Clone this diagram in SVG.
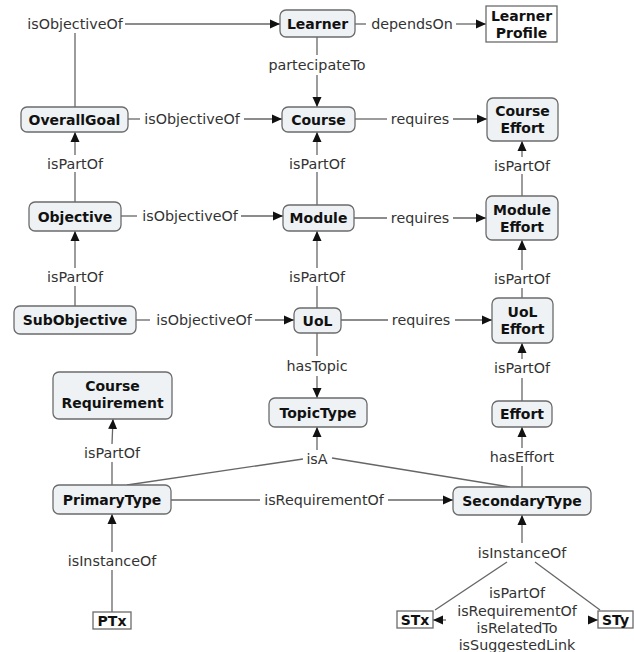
<svg xmlns="http://www.w3.org/2000/svg" width="634" height="652" viewBox="0 0 634 652">
<defs>
<marker id="ah" viewBox="0 0 10 10" refX="10" refY="5" markerWidth="10" markerHeight="10" markerUnits="userSpaceOnUse" orient="auto">
<path d="M0,0.5 L10,5 L0,9.5 z" fill="#111"/>
</marker>
<style>
.n rect{fill:#eef2f5;stroke:#6b6b6b;stroke-width:1.3}
.p rect{fill:#fff;stroke:#6b6b6b;stroke-width:1.3}
.n text,.p text{font-family:"DejaVu Sans",Verdana,sans-serif;font-weight:bold;font-size:14px;fill:#111;text-anchor:middle}
#conn line{stroke:#666;stroke-width:1.3;fill:none}
#conn line.a{marker-end:url(#ah)}
#conn text{font-family:"DejaVu Sans",Verdana,sans-serif;font-size:14.3px;fill:#333;text-anchor:middle}
</style>
</defs>
<rect width="634" height="652" fill="#fff"/>
<g id="conn">
<line x1="75" y1="107" x2="75" y2="33"/>
<text x="75" y="29">isObjectiveOf</text>
<line class="a" x1="125" y1="24" x2="280" y2="24"/>
<line x1="355" y1="24" x2="366" y2="24"/>
<text x="412" y="29">dependsOn</text>
<line class="a" x1="456" y1="24" x2="486" y2="24"/>
<line x1="317" y1="37" x2="317" y2="55"/>
<text x="317" y="70">partecipateTo</text>
<line class="a" x1="317" y1="75" x2="317" y2="107"/>
<line x1="128" y1="119" x2="140" y2="119"/>
<text x="192" y="124">isObjectiveOf</text>
<line class="a" x1="244" y1="119" x2="282" y2="119"/>
<line x1="355" y1="119" x2="387" y2="119"/>
<text x="420" y="124">requires</text>
<line class="a" x1="453" y1="119" x2="487" y2="119"/>
<line x1="75" y1="202" x2="75" y2="172"/>
<text x="75" y="169">isPartOf</text>
<line class="a" x1="75" y1="155" x2="75" y2="132"/>
<line x1="317" y1="205" x2="317" y2="172"/>
<text x="317" y="169">isPartOf</text>
<line class="a" x1="317" y1="155" x2="317" y2="132"/>
<line x1="522" y1="196" x2="522" y2="174"/>
<text x="522" y="171">isPartOf</text>
<line class="a" x1="522" y1="157" x2="522" y2="141"/>
<line x1="121" y1="216" x2="137" y2="216"/>
<text x="190" y="221">isObjectiveOf</text>
<line class="a" x1="241" y1="216" x2="283" y2="216"/>
<line x1="354" y1="218" x2="387" y2="218"/>
<text x="420" y="223">requires</text>
<line class="a" x1="453" y1="218" x2="486" y2="218"/>
<line x1="75" y1="306" x2="75" y2="286"/>
<text x="75" y="282">isPartOf</text>
<line class="a" x1="75" y1="268" x2="75" y2="231"/>
<line x1="317" y1="308" x2="317" y2="286"/>
<text x="317" y="282">isPartOf</text>
<line class="a" x1="317" y1="268" x2="317" y2="231"/>
<line x1="522" y1="298" x2="522" y2="288"/>
<text x="522" y="284">isPartOf</text>
<line class="a" x1="522" y1="270" x2="522" y2="240"/>
<line x1="136" y1="320" x2="150" y2="320"/>
<text x="204" y="325">isObjectiveOf</text>
<line class="a" x1="255" y1="320" x2="294" y2="320"/>
<line x1="341" y1="320" x2="388" y2="320"/>
<text x="421" y="325">requires</text>
<line class="a" x1="455" y1="320" x2="492" y2="320"/>
<line x1="317" y1="333" x2="317" y2="356"/>
<text x="317" y="371">hasTopic</text>
<line class="a" x1="317" y1="376" x2="317" y2="398"/>
<line x1="522" y1="401" x2="522" y2="378"/>
<text x="522" y="373">isPartOf</text>
<line class="a" x1="522" y1="359" x2="522" y2="343"/>
<line x1="127" y1="485" x2="303" y2="459"/>
<line x1="510" y1="487" x2="332" y2="458"/>
<text x="317" y="464">isA</text>
<line class="a" x1="317" y1="450" x2="317" y2="427"/>
<line x1="522" y1="487" x2="522" y2="466"/>
<text x="522" y="462">hasEffort</text>
<line class="a" x1="522" y1="448" x2="522" y2="427"/>
<line x1="112" y1="485" x2="112" y2="462"/>
<text x="112" y="458">isPartOf</text>
<line class="a" x1="112" y1="444" x2="113" y2="419"/>
<line x1="171" y1="500" x2="260" y2="500"/>
<text x="324" y="505">isRequirementOf</text>
<line class="a" x1="388" y1="500" x2="453" y2="500"/>
<line x1="112" y1="612" x2="112" y2="570"/>
<text x="112" y="566">isInstanceOf</text>
<line class="a" x1="112" y1="552" x2="112" y2="514"/>
<text x="522" y="558">isInstanceOf</text>
<line class="a" x1="522" y1="543" x2="522" y2="515"/>
<line x1="435" y1="610" x2="507" y2="562"/>
<line x1="600" y1="610" x2="535" y2="562"/>
<text x="517" y="598">isPartOf</text>
<text x="517" y="616">isRequirementOf</text>
<text x="517" y="633">isRelatedTo</text>
<text x="517" y="650">isSuggestedLink</text>
<line class="a" x1="446" y1="620" x2="433" y2="620"/>
<line class="a" x1="588" y1="620" x2="598" y2="620"/>
</g>
<g id="learner" class="n"><rect x="280" y="10" width="75" height="27" rx="6"/><text x="317.5" y="29">Learner</text></g>
<g id="learnerProfile" class="p"><rect x="486" y="6" width="71" height="36"/><text x="521.5" y="21">Learner</text><text x="521.5" y="38">Profile</text></g>
<g id="overallGoal" class="n"><rect x="21" y="107" width="107" height="25" rx="6"/><text x="74.5" y="124.5">OverallGoal</text></g>
<g id="course" class="n"><rect x="282" y="107" width="73" height="25" rx="6"/><text x="318.5" y="124.5">Course</text></g>
<g id="courseEffort" class="n"><rect x="487" y="98" width="71" height="43" rx="6"/><text x="522.5" y="116">Course</text><text x="522.5" y="133">Effort</text></g>
<g id="objective" class="n"><rect x="29" y="202" width="92" height="29" rx="6"/><text x="75" y="221.5">Objective</text></g>
<g id="module" class="n"><rect x="283" y="205" width="71" height="26" rx="6"/><text x="318.5" y="223">Module</text></g>
<g id="moduleEffort" class="n"><rect x="486" y="196" width="72" height="44" rx="6"/><text x="522" y="215">Module</text><text x="522" y="232">Effort</text></g>
<g id="subObjective" class="n"><rect x="14" y="306" width="122" height="28" rx="6"/><text x="75" y="325">SubObjective</text></g>
<g id="uol" class="n"><rect x="294" y="308" width="47" height="25" rx="6"/><text x="317.5" y="325.5">UoL</text></g>
<g id="uolEffort" class="n"><rect x="492" y="298" width="61" height="45" rx="6"/><text x="522.5" y="317">UoL</text><text x="522.5" y="334">Effort</text></g>
<g id="courseRequirement" class="n"><rect x="53" y="372" width="119" height="47" rx="6"/><text x="112.5" y="391">Course</text><text x="112.5" y="408">Requirement</text></g>
<g id="topicType" class="n"><rect x="269" y="398" width="98" height="29" rx="6"/><text x="318" y="417.5">TopicType</text></g>
<g id="effort" class="n"><rect x="492" y="401" width="60" height="26" rx="6"/><text x="522" y="419">Effort</text></g>
<g id="primaryType" class="n"><rect x="53" y="485" width="118" height="29" rx="6"/><text x="112" y="504.5">PrimaryType</text></g>
<g id="secondaryType" class="n"><rect x="453" y="487" width="138" height="28" rx="6"/><text x="522" y="506">SecondaryType</text></g>
<g id="ptx" class="p"><rect x="93" y="612" width="38" height="17"/><text x="112" y="625.5">PTx</text></g>
<g id="stx" class="p"><rect x="397" y="611" width="36" height="17"/><text x="415" y="624.5">STx</text></g>
<g id="sty" class="p"><rect x="598" y="611" width="35" height="17"/><text x="615.5" y="624.5">STy</text></g>
</svg>
